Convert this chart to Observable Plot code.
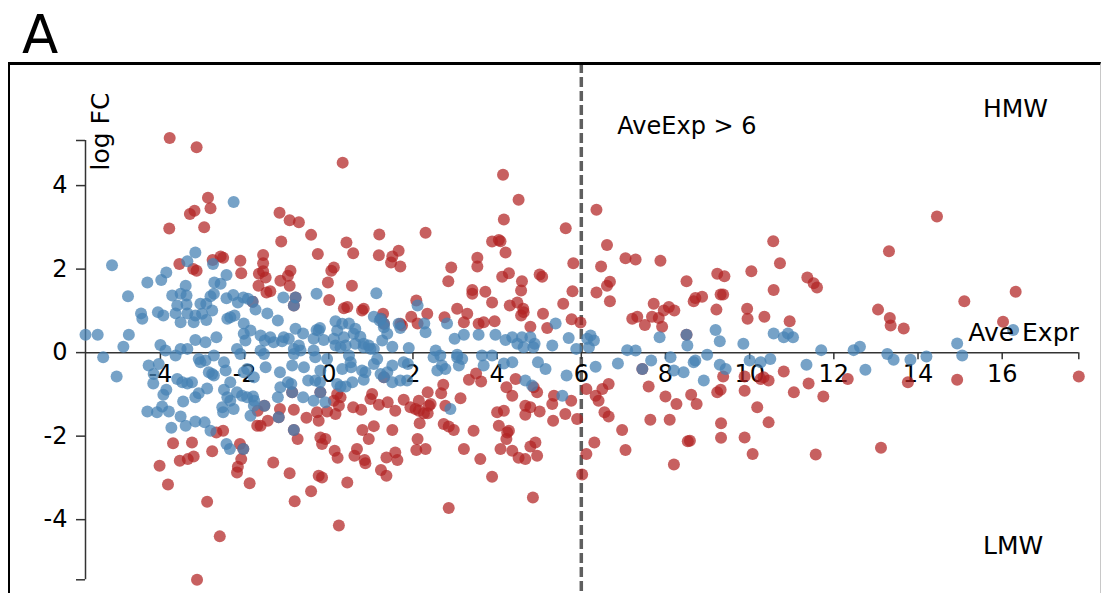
<!DOCTYPE html>
<html><head><meta charset="utf-8">
<script src="https://cdn.jsdelivr.net/npm/d3@7"></script>
<script src="https://cdn.jsdelivr.net/npm/@observablehq/plot@0.6"></script>
<style>
html,body{margin:0;padding:0;background:#fff;width:1101px;height:593px;overflow:hidden;}
#chart{position:absolute;left:0;top:0;}
#box{position:absolute;left:7.5px;top:62px;width:1090px;height:560px;border-top:3px solid #000;border-left:2.5px solid #000;border-right:1px solid #c8c8c8;pointer-events:none;}
</style></head><body>
<div id="chart"></div><div id="box"></div>
<script>
const xExtent = [-5.78, 17.82];
const yExtent = [-5.44, 5.08];
const xTicks = [-4, -2, 0, 2, 4, 6, 8, 10, 12, 14, 16];
const yTicks = [-4, -2, 0, 2, 4];
const threshold = 6;

// red: differentially expressed
const significant = [
[-3.78,5.14],[-3.14,4.92],[-2.87,3.71],[-2.81,3.46],[-3.30,3.32],[-3.19,3.40],[-3.79,2.97],[-2.96,3.00],
[-1.17,3.35],[-0.93,3.17],[-0.71,3.12],[-1.13,2.66],[-0.42,2.82],[-0.26,2.36],[-2.57,2.30],[-2.51,2.27],
[-2.10,2.20],[-1.56,2.34],[-1.56,2.14],[-3.55,2.12],[-2.76,2.22],[-3.22,2.00],[-3.14,1.96],[-2.08,1.90],
[-1.66,1.89],[-1.56,1.95],[-1.50,1.80],[-0.91,1.96],[-0.97,1.84],[-1.15,1.72],[-0.93,1.60],[-1.67,1.60],
[-1.48,1.44],[-1.39,1.47],[-0.02,1.68],[0.01,1.26],[-0.79,1.32],[-0.83,1.13],[-1.81,1.22],
[-1.69,-1.39],[-1.16,-1.35],[-0.83,-1.37],[-1.45,-1.63],[-1.62,-1.75],[-1.70,-1.75],[-0.53,-1.56],[-0.28,-1.43],
[-0.24,-1.63],[-0.04,-1.41],[-2.67,-1.91],[-2.51,-1.87],[-2.11,-2.19],[-3.70,-2.17],[-3.25,-2.15],[-2.77,-2.36],
[-3.54,-2.59],[-3.35,-2.55],[-3.21,-2.49],[-2.08,-2.55],[-2.16,-2.73],[-2.18,-2.87],[-4.02,-2.71],[-3.82,-3.16],
[-1.32,-2.63],[-0.93,-2.89],[-1.88,-3.13],[-2.89,-3.57],[-2.59,-4.40],[-3.13,-5.44],[-0.74,-2.07],[-0.20,-2.03],
[-0.08,-2.07],[-0.16,-2.19],[-0.24,-2.95],[-0.16,-2.99],[-0.42,-3.32],[-0.81,-3.56],
[-1.53,-1.27],[-1.19,-1.55],[-0.83,-1.85],[-0.87,-0.95],[-0.20,-0.95],[-2.03,-2.31],
[0.33,4.55],[4.14,4.26],[4.51,3.66],[4.16,3.19],[5.63,2.98],[1.20,2.83],[2.30,2.87],[0.42,2.64],
[0.58,2.38],[1.19,2.33],[1.66,2.44],[1.51,2.30],[1.48,2.16],[1.70,2.06],[0.12,2.04],[0.06,1.96],
[3.88,2.66],[4.04,2.70],[4.08,2.67],[4.20,2.40],[3.53,2.27],[3.53,2.06],[2.91,2.04],[2.84,1.71],
[4.12,1.82],[4.28,1.90],[4.59,1.71],[4.57,1.49],[5.01,1.87],[5.07,1.82],[5.81,2.14],[3.41,1.50],
[3.41,1.41],[3.72,1.46],[3.88,1.20],[4.30,1.13],[4.48,1.20],[4.62,1.05],[4.57,0.89],[4.63,0.97],
[0.55,1.60],[2.08,1.25],[0.83,1.05],[0.79,1.01],[0.36,1.06],[0.44,1.09],[1.29,0.93],[3.05,1.05],
[3.29,0.93],[3.21,0.73],[2.34,0.93],[1.96,0.86],[2.11,0.70],[2.75,0.85],[3.56,0.69],[3.68,0.73],
[3.94,0.75],[4.79,0.62],[5.09,0.93],[5.19,0.59],[5.57,1.17],[5.79,1.47],[5.77,0.80],[5.98,0.72],
[1.70,0.69],[1.74,0.65],[1.24,0.81],[1.31,0.69],
[0.20,-0.99],[0.28,-1.07],[0.12,-1.15],[0.24,-1.27],[0.16,-1.47],[0.14,-2.35],[0.21,-2.52],[0.44,-3.11],
[0.24,-4.14],[0.58,-1.31],[0.77,-1.37],[0.99,-1.11],[1.03,-0.99],[1.19,-1.25],[1.40,-1.19],[1.58,-1.39],
[0.80,-1.85],[1.07,-1.76],[0.95,-2.07],[1.51,-1.85],[0.67,-2.31],[0.61,-2.47],[0.85,-2.57],[0.87,-2.65],
[1.37,-2.51],[1.58,-2.39],[1.63,-2.57],[1.24,-2.81],[1.37,-2.95],[1.78,-1.13],[1.94,-1.31],[2.06,-1.35],
[2.14,-1.15],[2.14,-1.39],[2.26,-1.45],[2.38,-1.27],[2.35,-1.45],[2.42,-1.23],[2.35,-0.95],[2.16,-1.69],
[2.11,-2.07],[2.08,-2.33],[2.30,-2.31],[2.67,-0.97],[2.72,-0.77],[2.77,-1.27],[2.73,-1.71],[2.85,-1.77],
[2.97,-1.85],[3.13,-1.09],[3.33,-0.65],[3.62,-0.69],[3.50,-0.50],[3.44,-1.87],[3.21,-2.31],[3.60,-2.55],
[3.88,-2.97],[2.85,-3.72],[4.00,-1.43],[4.16,-1.39],[4.04,-1.75],[4.24,-1.91],[4.28,-1.87],[4.22,-2.07],
[4.08,-2.31],[4.36,-2.35],[4.51,-2.52],[4.67,-2.55],[4.36,-1.03],[4.22,-0.83],[4.44,-0.63],[4.67,-1.27],
[4.79,-1.31],[4.67,-1.49],[4.87,-0.83],[4.95,-0.95],[5.01,-1.41],[4.79,-2.25],[4.91,-2.15],[4.95,-2.47],
[4.85,-3.47],[5.31,-1.23],[5.35,-1.03],[5.33,-1.63],[5.62,-1.47],[5.76,-1.15],[5.90,-1.59],[6.02,-2.92],
[1.31,-0.59],
[6.36,3.42],[6.61,2.58],[6.47,2.06],[6.36,1.44],[6.61,1.60],[6.68,1.70],[6.68,1.23],[7.05,2.26],
[7.29,2.23],[7.88,2.20],[7.72,1.17],[7.21,0.81],[7.33,0.86],[7.51,0.66],[7.68,0.86],[7.84,0.83],
[7.92,0.62],[7.96,1.01],[8.08,1.09],[8.21,1.01],[8.50,1.71],[8.67,1.23],[8.71,1.31],[8.87,1.34],
[9.23,1.89],[9.40,1.83],[9.31,1.39],[9.37,1.39],[9.21,1.03],[10.04,1.95],[9.94,1.05],[9.95,0.81],
[10.56,2.67],[10.72,2.14],[10.57,1.50],[10.35,0.86],[10.95,0.75],[11.37,1.80],[11.52,1.66],[11.60,1.56],
[8.50,0.43],
[6.12,-0.87],[6.34,-1.03],[6.41,-1.15],[6.50,-0.87],[6.65,-0.75],[6.55,-1.43],[6.65,-1.53],[6.31,-2.15],
[6.12,-2.43],[6.97,-1.85],[7.05,-2.33],[7.60,-0.81],[7.64,-1.61],[8.00,-1.05],[8.10,-1.61],[8.26,-1.23],
[8.20,-2.68],[8.53,-2.12],[8.58,-2.11],[8.61,-1.01],[8.74,-1.23],[9.23,-0.95],[9.31,-0.89],[9.37,-0.57],
[9.32,-1.69],[9.32,-2.04],[9.88,-0.57],[9.88,-0.91],[10.18,-1.31],[9.88,-2.03],[10.07,-2.43],[10.26,-0.63],
[10.33,-0.59],[10.45,-0.67],[10.45,-1.67],[10.81,-0.45],[11.05,-0.95],[11.40,-0.74],[11.75,-1.05],[11.57,-2.44],
[7.45,-0.39],
[14.45,3.26],[13.31,2.43],[13.05,1.03],[13.33,0.83],[13.35,0.65],[13.66,0.58],[15.10,1.23],[16.32,1.46],
[16.02,0.74],[12.33,-0.63],[13.76,-0.71],[14.93,-0.65],[17.82,-0.57],[13.12,-2.28]
];

// blue: not differentially expressed
const notSignificant = [
[-2.26,3.61],[-5.15,2.09],[-3.36,2.19],[-3.86,1.92],[-3.98,1.74],[-4.31,1.68],[-3.40,1.60],[-2.43,1.86],
[-2.72,1.68],[-2.57,1.65],[-4.77,1.35],[-3.72,1.37],[-3.52,1.41],[-3.38,1.37],[-2.73,1.41],[-2.81,1.35],
[-2.43,1.30],[-2.27,1.38],[-2.16,1.20],[-2.03,1.32],[-1.92,1.29],[-3.60,1.13],[-3.38,1.15],[-3.05,1.17],
[-2.91,1.17],[-1.74,1.03],[-1.08,1.32],[-0.29,1.41],[-4.46,0.94],[-4.43,0.81],[-4.06,0.97],[-3.93,0.89],
[-3.64,0.94],[-3.36,0.94],[-3.17,0.89],[-3.01,0.93],[-2.77,1.01],[-3.52,0.73],[-3.21,0.73],[-2.91,0.78],
[-2.41,0.81],[-2.24,0.89],[-2.34,0.85],[-2.02,0.70],[-1.46,0.94],[-1.21,0.77],[-0.79,0.57],[-0.61,0.46],
[-0.29,0.54],[-0.21,0.59],[-5.78,0.43],[-5.49,0.43],[-4.75,0.43],[-4.88,0.14],[-4.00,0.18],[-3.88,0.05],
[-3.17,0.30],[-2.93,0.25],[-2.67,0.37],[-3.52,0.09],[-3.36,0.09],[-2.18,0.09],[-2.02,0.45],[-1.98,0.29],
[-1.86,0.53],[-1.62,0.41],[-1.52,0.29],[-1.39,0.37],[-1.31,0.25],[-1.07,0.37],[-1.11,0.27],[-0.95,0.33],
[-0.83,0.09],[-0.71,0.17],[-0.67,0.05],[-0.36,0.33],[-0.24,0.53],[-0.12,0.30],[-0.36,0.05],[-1.62,0.05],
[-3.17,2.40],[-2.75,2.12],[-0.79,1.32],[-0.83,1.13],[-1.81,1.22],
[-5.36,-0.11],[-5.04,-0.57],[-4.28,-0.31],[-4.16,-0.51],[-4.17,-0.74],[-4.04,-0.27],[-3.64,-0.07],[-3.09,-0.15],
[-3.05,-0.23],[-2.93,-0.19],[-2.73,-0.07],[-2.77,-0.51],[-2.85,-0.47],[-2.73,-0.55],[-2.49,-0.23],[-2.45,-0.43],
[-3.60,-0.63],[-3.48,-0.71],[-3.36,-0.74],[-3.25,-0.71],[-2.89,-0.86],[-3.86,-0.89],[-3.93,-1.01],[-3.09,-0.97],
[-3.17,-1.07],[-3.46,-1.17],[-4.31,-1.41],[-4.08,-1.43],[-3.96,-1.29],[-3.80,-1.41],[-3.52,-1.53],[-3.40,-1.75],
[-3.17,-1.65],[-2.95,-1.67],[-3.74,-1.80],[-2.81,-1.87],[-2.49,-0.89],[-2.41,-1.07],[-2.34,-1.15],[-2.53,-1.31],
[-2.51,-1.43],[-2.26,-1.35],[-2.34,-0.71],[-2.18,-0.95],[-2.06,-1.03],[-1.94,-1.07],[-1.80,-1.05],[-2.02,-0.47],
[-1.94,-0.39],[-2.10,-0.03],[-1.78,-0.59],[-1.77,-1.15],[-1.86,-1.51],[-1.78,-1.27],[-1.50,-0.35],[-1.16,-0.47],
[-0.87,-0.31],[-0.89,-0.75],[-0.97,-0.71],[-1.15,-0.83],[-1.21,-1.07],[-0.59,-0.35],[-0.49,-0.67],[-0.32,-0.67],
[-0.36,-1.15],[-0.61,-1.07],[-0.21,-0.71],[-0.08,-1.19],[-0.32,-0.11],[-0.20,-0.43],[-0.04,-0.15],[-0.83,-0.03],
[-1.54,-0.03],
[-1.53,-1.27],[-1.19,-1.55],[-0.83,-1.85],[-0.87,-0.95],[-0.20,-0.95],[-2.43,-2.19],[-2.35,-2.31],[-2.03,-2.31],
[1.13,1.42],[2.11,1.13],[1.07,0.86],[1.21,0.77],[1.31,0.61],[0.16,0.75],[0.32,0.69],[0.48,0.70],
[0.63,0.57],[0.20,0.53],[0.12,0.33],[0.36,0.37],[0.59,0.45],[0.75,0.38],[0.83,0.21],[0.63,0.21],
[0.40,0.17],[0.16,0.17],[0.95,0.17],[1.07,0.09],[1.27,0.29],[1.39,0.45],[1.51,0.14],[1.66,0.69],
[1.70,0.59],[1.90,0.11],[2.27,0.70],[2.30,0.49],[2.81,0.70],[2.99,0.33],[3.21,0.43],[3.56,0.43],
[3.96,0.43],[4.20,0.30],[4.36,0.37],[4.48,0.21],[4.59,0.37],[4.63,0.13],[4.79,0.37],[4.89,0.21],
[4.86,0.13],[5.31,0.17],[5.39,0.70],[5.70,0.35],[5.88,0.09],[2.54,0.05],[0.28,0.13],[0.83,0.13],[0.99,0.09],
[1.24,0.81],[1.31,0.69],
[0.48,-0.07],[0.52,-0.23],[0.53,-0.35],[0.32,-0.39],[0.79,-0.43],[0.87,-0.47],[0.83,-0.65],[1.07,-0.27],
[1.15,-0.15],[1.23,-0.51],[1.39,-0.47],[1.51,-0.31],[1.51,-0.71],[0.56,-0.71],[0.20,-0.75],[0.28,-0.81],
[0.40,-0.81],[1.70,-0.67],[1.86,-0.67],[1.88,-0.27],[1.78,-0.23],[2.49,-0.11],[2.65,-0.07],[2.69,-0.31],
[2.58,-0.43],[2.77,-0.39],[3.05,-0.11],[3.09,-0.31],[3.17,-0.15],[3.64,-0.07],[3.68,-0.31],[4.16,-0.26],
[4.36,-0.23],[4.97,-0.23],[5.15,-0.39],[4.67,-0.67],[4.83,-0.79],[5.65,-0.55],[5.55,-1.03],[2.89,-1.35],
[1.31,-0.59],[3.05,-0.05],[3.88,-0.07],
[6.22,0.41],[6.30,0.29],[6.18,0.13],[6.14,0.33],[7.09,0.06],[7.29,0.05],[7.86,0.37],[8.52,0.17],
[9.19,0.54],[9.29,0.27],[9.85,0.21],[10.57,0.46],[10.81,0.37],[10.91,0.46],[11.03,0.37],[11.70,0.06],
[8.50,0.43],[6.34,-0.34],[6.87,-0.26],[7.45,-0.39],[7.66,-0.19],[8.12,-0.11],[8.20,-0.43],[8.43,-0.47],
[8.71,-0.19],[8.67,-0.23],[8.99,-0.05],[8.91,-0.67],[9.29,-0.29],[9.43,-0.39],[10.00,-0.19],[10.26,-0.23],
[10.49,-0.15],[11.35,-0.29],
[16.26,0.54],[14.93,0.22],[15.05,-0.07],[12.47,0.06],[12.62,0.14],[13.27,-0.03],[13.42,-0.17],[13.82,-0.17],
[14.20,-0.09],[12.75,-0.41]
];

const toRows = (arr) => arr.map(([x, y]) => ({x, y}));
const axisColor = "#333";
const font = "DejaVu Sans";

const chart = Plot.plot({
  width: 1101,
  height: 593,
  marginLeft: 85,
  marginRight: 22.7,
  marginTop: 63,
  marginBottom: 0,
  style: {fontFamily: font, fontSize: "24px", color: "#000", background: "transparent", overflow: "visible"},
  x: {domain: xExtent, axis: null},
  y: {domain: yExtent, range: [579.3, 140]},
  marks: [
    Plot.ruleX([threshold], {stroke: "#5f5f5f", strokeWidth: 3.5, strokeDasharray: "10,4"}),
    Plot.ruleY([0], {stroke: axisColor, strokeWidth: 1.5}),
    Plot.ruleX([...xTicks, xExtent[1]], {x: d => d, y1: 0, y2: 0, insetBottom: -7, stroke: axisColor, strokeWidth: 1.5}),
    Plot.text(xTicks, {x: d => d, y: 0, text: d => String(d), dy: 21.5, fontSize: 24, fill: "#000"}),
    Plot.ruleX([xExtent[0]], {y1: yExtent[0], y2: yExtent[1], stroke: axisColor, strokeWidth: 1.5}),
    Plot.axisY([yExtent[0], ...yTicks, yExtent[1]], {
      anchor: "left", tickSize: 9, tickPadding: 9, label: null,
      tickFormat: d => yTicks.includes(d) ? String(d) : "",
      stroke: axisColor, strokeWidth: 1.5, fontSize: 24, fill: "#000"
    }),
    Plot.dot(toRows(significant), {x: "x", y: "y", r: 6, fill: "#b22222", fillOpacity: 0.72}),
    Plot.dot(toRows(notSignificant), {x: "x", y: "y", r: 6, fill: "#4682b4", fillOpacity: 0.74}),
    Plot.text(["A"], {text: d => d, frameAnchor: "top-left", dx: -63.5, dy: -11, textAnchor: "start", lineAnchor: "bottom", fontSize: 53, fill: "#000"}),
    Plot.text(["HMW"], {text: d => d, frameAnchor: "top-right", dx: -95.8, dy: 53, textAnchor: "start", lineAnchor: "bottom", fontSize: 25, fill: "#000"}),
    Plot.text(["LMW"], {text: d => d, frameAnchor: "bottom-right", dx: -95.8, dy: -40, textAnchor: "start", lineAnchor: "bottom", fontSize: 25, fill: "#000"}),
    Plot.text(["AveExp > 6"], {x: threshold, text: d => d, frameAnchor: "top", dx: 36, dy: 70, textAnchor: "start", lineAnchor: "bottom", fontSize: 24, fill: "#000"}),
    Plot.text(["Ave Expr"], {y: 0, text: d => d, frameAnchor: "right", dy: -11.6, textAnchor: "end", lineAnchor: "bottom", fontSize: 25, fill: "#000"}),
    Plot.text(["log FC"], {text: d => d, frameAnchor: "top-left", dx: 23.5, dy: 107, rotate: -90, textAnchor: "start", lineAnchor: "bottom", fontSize: 25, fill: "#000"})
  ]
});
document.getElementById("chart").appendChild(chart);
</script></body></html>
